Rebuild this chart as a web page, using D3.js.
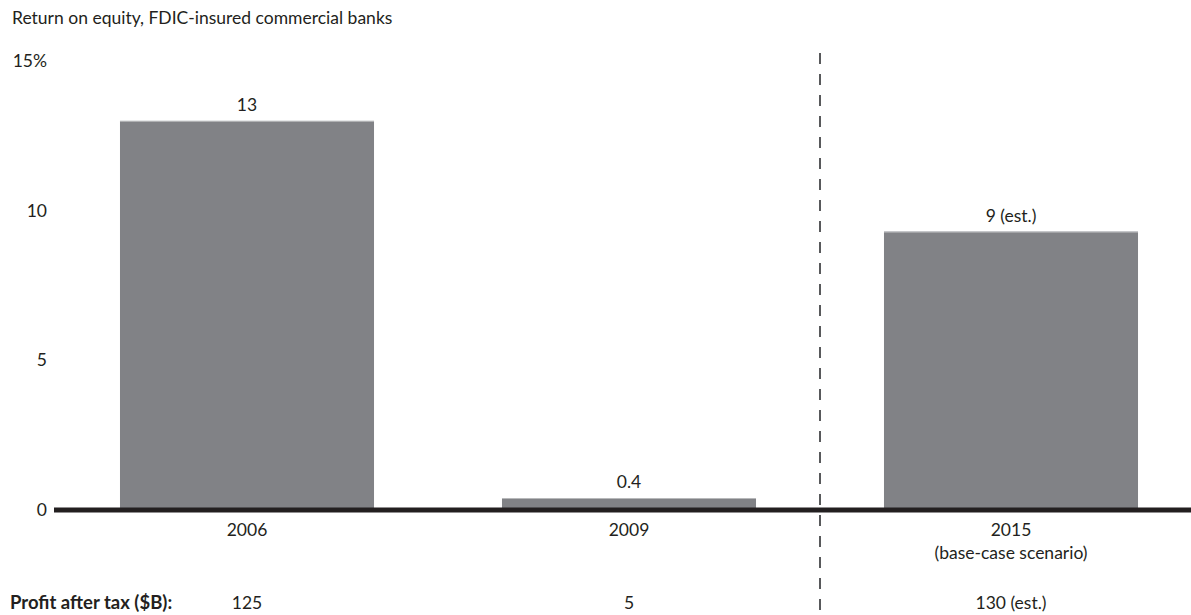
<!DOCTYPE html>
<html><head><meta charset="utf-8">
<script src="https://cdn.jsdelivr.net/npm/d3@7"></script>
<style>
body{margin:0;background:#fff;}
text{font-family:Lato,"Open Sans",sans-serif;fill:#231f20;}
</style></head>
<body>
<svg id="chart" width="1191" height="615"></svg>
<script>
const categories = ["2006", "2009", "2015"];
const subLabels = ["", "", "(base-case scenario)"];
const roeValues = [13, 0.4, 9.3];
const valueLabels = ["13", "0.4", "9 (est.)"];
const profitLabels = ["125", "5", "130 (est.)"];
const yTicks = [0, 5, 10, 15];
const yTickLabels = ["0", "5", "10", "15%"];
const title = "Return on equity, FDIC-insured commercial banks";
const profitTitle = "Profit after tax ($B):";

const svg = d3.select("#chart");
const fs = 17.5;

const x = d3.scaleBand().domain(categories).range([56, 1202]).paddingInner(0.335).paddingOuter(0.1675);
const y = d3.scaleLinear().domain([0, 15]).range([510, 61]);

svg.append("text").attr("x", 12).attr("y", 24).attr("font-size", fs).text(title);

// y tick labels
svg.selectAll(".ytick").data(yTicks).join("text")
  .attr("class", "ytick")
  .attr("x", 47).attr("y", d => y(d)).attr("dy", "0.35em")
  .attr("text-anchor", "end").attr("font-size", fs)
  .text((d, i) => yTickLabels[i]);

// bars
svg.selectAll(".bar").data(roeValues).join("rect")
  .attr("class", "bar")
  .attr("x", (d, i) => x(categories[i]))
  .attr("width", x.bandwidth())
  .attr("y", d => y(d))
  .attr("height", d => y(0) - y(d))
  .attr("fill", "#818286");
svg.selectAll(".bartop").data(roeValues).join("line")
  .attr("class", "bartop")
  .attr("x1", (d, i) => x(categories[i]))
  .attr("x2", (d, i) => x(categories[i]) + x.bandwidth())
  .attr("y1", d => y(d) + 0.5).attr("y2", d => y(d) + 0.5)
  .attr("stroke", "#b8b9bb").attr("stroke-width", 1);

// value labels
svg.selectAll(".vlab").data(roeValues).join("text")
  .attr("class", "vlab")
  .attr("x", (d, i) => x(categories[i]) + x.bandwidth() / 2)
  .attr("y", d => y(d) - 10)
  .attr("text-anchor", "middle").attr("font-size", fs)
  .text((d, i) => valueLabels[i]);

// baseline
svg.append("line").attr("x1", 54).attr("x2", 1191)
  .attr("y1", y(0)).attr("y2", y(0))
  .attr("stroke", "#231f20").attr("stroke-width", 5);

// category labels
svg.selectAll(".clab").data(categories).join("text")
  .attr("class", "clab")
  .attr("x", d => x(d) + x.bandwidth() / 2)
  .attr("y", 536)
  .attr("text-anchor", "middle").attr("font-size", fs)
  .text(d => d);
svg.selectAll(".slab").data(subLabels).join("text")
  .attr("class", "slab")
  .attr("x", (d, i) => x(categories[i]) + x.bandwidth() / 2)
  .attr("y", 559)
  .attr("text-anchor", "middle").attr("font-size", fs)
  .text(d => d);

// profit row
svg.append("text").attr("x", 10).attr("y", 609).attr("font-size", 18.5)
  .attr("font-weight", "bold").text(profitTitle);
svg.selectAll(".plab").data(profitLabels).join("text")
  .attr("class", "plab")
  .attr("x", (d, i) => x(categories[i]) + x.bandwidth() / 2)
  .attr("y", 609)
  .attr("text-anchor", "middle").attr("font-size", fs)
  .text(d => d);

// dashed divider between 2009 and 2015
const divX = (x("2009") + x.bandwidth() + x("2015")) / 2;
svg.append("line").attr("x1", divX).attr("x2", divX)
  .attr("y1", 53).attr("y2", 615)
  .attr("stroke", "#58595b").attr("stroke-width", 2)
  .attr("stroke-dasharray", "11,10");
</script>
</body></html>
